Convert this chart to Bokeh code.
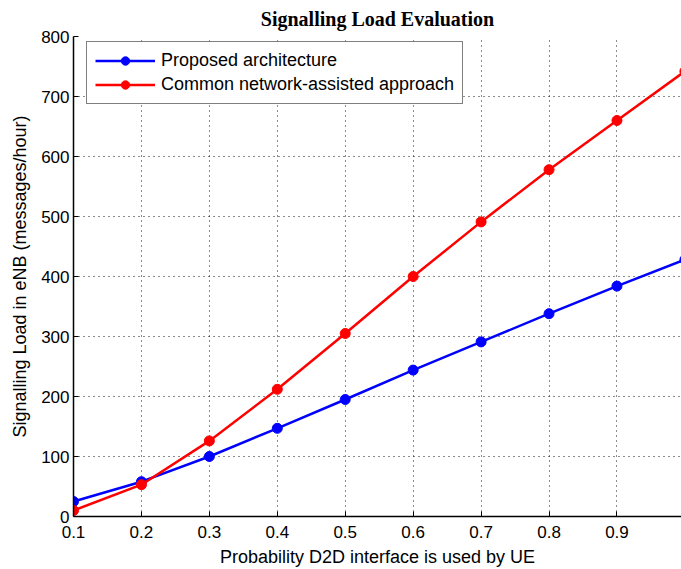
from bokeh.plotting import figure
from bokeh.embed import file_html
from bokeh.resources import INLINE
from bokeh.models import Range1d, FixedTicker, Legend, LegendItem

x = [0.1, 0.2, 0.3, 0.4, 0.5, 0.6, 0.7, 0.8, 0.9, 1.0]
proposed = [25, 58, 100, 147, 195, 244, 291, 338, 384, 428]
common = [10, 53, 126, 212, 305, 400, 491, 578, 660, 742]
x_ticks = [0.1, 0.2, 0.3, 0.4, 0.5, 0.6, 0.7, 0.8, 0.9, 1.0]
y_ticks = [0, 100, 200, 300, 400, 500, 600, 700, 800]

p = figure(width=681, height=569, output_backend="svg", toolbar_location=None,
           x_range=Range1d(0.1, 0.995), y_range=Range1d(0, 800),
           min_border_left=73, min_border_right=0, min_border_top=36, min_border_bottom=53)

p.title.text = "Signalling Load Evaluation"
p.title.align = "center"
p.title.vertical_align = "top"
p.title.text_font = "Liberation Serif"
p.title.text_font_size = "20px"
p.title.text_font_style = "bold"
p.title.text_color = "black"
p.title.offset = 0
p.title.standoff = 10

p.outline_line_color = None
p.background_fill_color = "white"
p.border_fill_color = "white"

for ax in (p.xaxis, p.yaxis):
    ax.major_label_text_font = "Liberation Sans"
    ax.major_label_text_font_size = "17px"
    ax.major_label_text_color = "black"
    ax.axis_label_text_font = "Liberation Sans"
    ax.axis_label_text_font_size = "18px"
    ax.axis_label_text_font_style = "normal"
    ax.axis_label_text_color = "black"
    ax.axis_line_color = "black"
    ax.axis_line_width = 1.5
    ax.major_tick_in = 5
    ax.major_tick_out = 0
    ax.minor_tick_line_color = None
    ax.major_tick_line_color = "black"

p.xaxis.ticker = FixedTicker(ticks=x_ticks)
p.yaxis.ticker = FixedTicker(ticks=y_ticks)
p.xaxis.major_label_overrides = {1.0: "1"}
p.xaxis.axis_label = "Probability D2D interface is used by UE"
p.yaxis.axis_label = "Signalling Load in eNB (messages/hour)"
p.xaxis.axis_label_standoff = 6
p.yaxis.axis_label_standoff = 8
p.xaxis.major_label_standoff = 9
p.yaxis.major_label_standoff = 4

p.grid.grid_line_color = "black"
p.grid.grid_line_dash = "1 4"
p.grid.grid_line_width = 1
p.grid.grid_line_alpha = 0.9

l1 = p.line(x, proposed, line_color="blue", line_width=2.5)
c1 = p.scatter(x, proposed, size=10, fill_color="blue", line_color="blue")
l2 = p.line(x, common, line_color="red", line_width=2.5)
c2 = p.scatter(x, common, size=10, fill_color="red", line_color="red")

legend = Legend(items=[
    LegendItem(label="Proposed architecture", renderers=[l1, c1]),
    LegendItem(label="Common network-assisted approach", renderers=[l2, c2]),
], location=(13, 412))
legend.label_text_font = "Liberation Sans"
legend.label_text_font_size = "18px"
legend.label_text_color = "black"
legend.border_line_color = "black"
legend.border_line_width = 1
legend.glyph_width = 60
legend.glyph_height = 21
legend.label_height = 21
legend.spacing = 3
legend.padding = 8
legend.margin = 0
legend.label_standoff = 6
legend.background_fill_alpha = 1
p.add_layout(legend)

open("out.html", "w").write(file_html(p, INLINE))
